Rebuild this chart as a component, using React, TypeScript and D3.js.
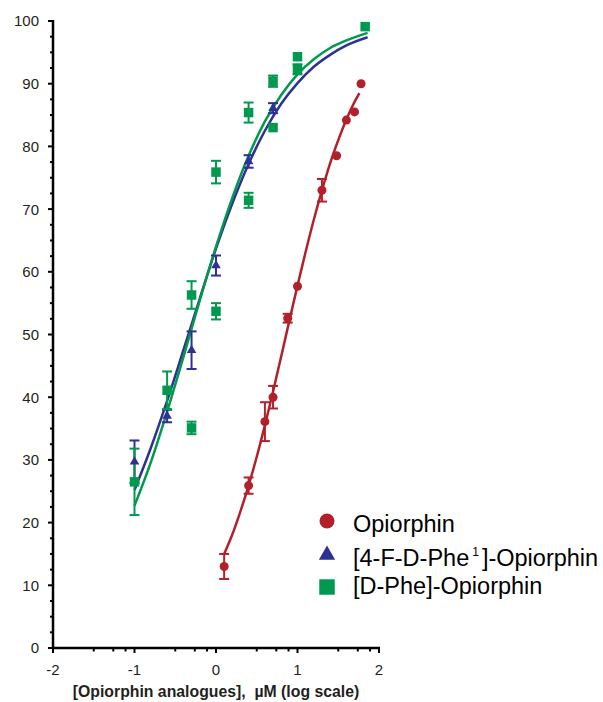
import React from "react";
import * as d3 from "d3";

// Opiorphin (log10 µM, % inhibition, sem)
const redX = [0.1, 0.4, 0.6, 0.7, 0.88, 1.0, 1.3, 1.48, 1.6, 1.7, 1.78];
const redY = [13.0, 25.9, 36.1, 40.0, 52.6, 57.7, 73.0, 78.5, 84.2, 85.5, 90.0];
const redErr = [2.0, 1.3, 3.1, 1.8, 0.7, 0, 1.8, 0, 0, 0, 0];

// [4-F-D-Phe1]-Opiorphin
const blueX = [-1, -0.6, -0.3, 0, 0.4, 0.7];
const blueY = [29.7, 37.0, 47.5, 61.0, 77.6, 86.1];
const blueErr = [3.4, 1.0, 3.0, 1.6, 1.0, 0.8];

// [D-Phe]-Opiorphin
const greenX = [-1, -0.6, -0.3, -0.3, 0, 0, 0.4, 0.4, 0.7, 0.7, 1.0, 1.0, 1.83];
const greenY = [26.5, 41.1, 56.3, 35.1, 75.9, 53.7, 85.4, 71.4, 90.4, 83.0, 94.3, 92.3, 99.1];
const greenErr = [5.3, 3.0, 2.2, 1.0, 1.8, 1.3, 1.6, 1.2, 0.9, 0, 0, 0.8, 0];

// fitted curves
const redFitX = [0.1, 0.2, 0.3, 0.4, 0.5, 0.6, 0.7, 0.8, 0.9, 1.0, 1.1, 1.2, 1.3, 1.4, 1.5, 1.6, 1.7, 1.76];
const redFitY = [15.0, 18.1, 21.8, 25.9, 30.5, 35.5, 40.9, 46.5, 52.2, 57.8, 63.2, 68.3, 73.0, 77.3, 81.0, 84.3, 87.1, 88.5];
const blueFitX = [-1, -0.8, -0.6, -0.4, -0.2, 0, 0.2, 0.4, 0.6, 0.8, 1.0, 1.2, 1.4, 1.6, 1.86];
const blueFitY = [25.2, 31.9, 39.4, 47.5, 55.7, 63.7, 70.9, 77.2, 82.5, 86.8, 90.1, 92.7, 94.6, 96.1, 97.4];
const greenFitX = [-1, -0.8, -0.6, -0.4, -0.2, 0, 0.2, 0.4, 0.6, 0.8, 1.0, 1.2, 1.4, 1.6, 1.86];
const greenFitY = [22.7, 29.6, 37.7, 46.4, 55.4, 64.0, 71.8, 78.5, 84.0, 88.2, 91.5, 93.9, 95.7, 96.9, 98.1];

const xTicks = [-2, -1, 0, 1, 2];
const xMinorOffsets = [0.5, 0.74, 0.89];
const yTicks = [0, 10, 20, 30, 40, 50, 60, 70, 80, 90, 100];

const RED = "#b2212a";
const BLUE = "#2e3192";
const GREEN = "#00994f";
const FONT = "'Liberation Sans', Arial, sans-serif";

export default function App() {
  const width = 603;
  const height = 702;
  const x = d3.scaleLinear().domain([-2, 2]).range([53, 379]);
  const y = d3.scaleLinear().domain([0, 100]).range([648, 21]);

  const line = d3
    .line<[number, number]>()
    .x(d => x(d[0]))
    .y(d => y(d[1]))
    .curve(d3.curveMonotoneX);

  const zip = (a: number[], b: number[]) => a.map((v, i) => [v, b[i]] as [number, number]);

  const yMinor = d3.range(0, 100.01, 2.5).filter(v => v % 10 !== 0);
  const xMinor = xTicks.slice(0, -1).flatMap(t => xMinorOffsets.map(o => t + o));

  const triSmall = d3.symbol(d3.symbolTriangle, 40)()!;
  const triBig = d3.symbol(d3.symbolTriangle, 115)()!;
  const sqSmall = d3.symbol(d3.symbolSquare, 90)()!;
  const sqBig = d3.symbol(d3.symbolSquare, 240)()!;

  const errBars = (xs: number[], ys: number[], es: number[], color: string, key: string) =>
    xs.map((xv, i) =>
      es[i] > 0 ? (
        <g key={key + i} stroke={color} strokeWidth={2}>
          <line x1={x(xv)} x2={x(xv)} y1={y(ys[i] - es[i])} y2={y(ys[i] + es[i])} />
          <line x1={x(xv) - 5} x2={x(xv) + 5} y1={y(ys[i] - es[i])} y2={y(ys[i] - es[i])} />
          <line x1={x(xv) - 5} x2={x(xv) + 5} y1={y(ys[i] + es[i])} y2={y(ys[i] + es[i])} />
        </g>
      ) : null
    );

  return (
    <svg
      width={width}
      height={height}
      style={{ position: "absolute", left: 0, top: 0, background: "#fff" }}
      fontFamily={FONT}
    >
      {/* axes */}
      <line x1={x(-2)} x2={x(-2)} y1={y(100) - 1} y2={y(0) + 1} stroke="#000" strokeWidth={2.5} />
      <line x1={x(-2) - 1} x2={x(2) + 1} y1={y(0)} y2={y(0)} stroke="#000" strokeWidth={2.5} />
      {yTicks.map(t => (
        <g key={"yt" + t}>
          <line x1={x(-2) - 5} x2={x(-2)} y1={y(t)} y2={y(t)} stroke="#000" strokeWidth={2} />
          <text x={39} y={y(t)} dy="0.36em" textAnchor="end" fontSize={15} fill="#231f20">
            {t}
          </text>
        </g>
      ))}
      {yMinor.map(t => (
        <line key={"ym" + t} x1={x(-2) - 3} x2={x(-2)} y1={y(t)} y2={y(t)} stroke="#000" strokeWidth={2} />
      ))}
      {xTicks.map(t => (
        <g key={"xt" + t}>
          <line x1={x(t)} x2={x(t)} y1={y(0)} y2={y(0) + 5} stroke="#000" strokeWidth={2} />
          <text x={x(t)} y={675} textAnchor="middle" fontSize={15} fill="#231f20">
            {t}
          </text>
        </g>
      ))}
      {xMinor.map(t => (
        <line key={"xm" + t} x1={x(t)} x2={x(t)} y1={y(0)} y2={y(0) + 3.5} stroke="#000" strokeWidth={2} />
      ))}
      <text
        x={x(0)}
        y={697}
        textAnchor="middle"
        fontSize={15.8}
        fontWeight="bold"
        fill="#231f20"
        style={{ whiteSpace: "pre" }}
      >
        {"[Opiorphin analogues],  \u00b5M (log scale)"}
      </text>

      {/* fitted curves */}
      <path d={line(zip(blueFitX, blueFitY))!} fill="none" stroke={BLUE} strokeWidth={2.5} />
      <path d={line(zip(greenFitX, greenFitY))!} fill="none" stroke={GREEN} strokeWidth={2.5} />
      <path d={line(zip(redFitX, redFitY))!} fill="none" stroke={RED} strokeWidth={2.5} />

      {/* error bars */}
      {errBars(blueX, blueY, blueErr, BLUE, "be")}
      {errBars(greenX, greenY, greenErr, GREEN, "ge")}
      {errBars(redX, redY, redErr, RED, "re")}

      {/* markers */}
      {blueX.map((xv, i) => (
        <path key={"b" + i} d={triSmall} transform={`translate(${x(xv)},${y(blueY[i])})`} fill={BLUE} />
      ))}
      {greenX.map((xv, i) => (
        <path key={"g" + i} d={sqSmall} transform={`translate(${x(xv)},${y(greenY[i])})`} fill={GREEN} />
      ))}
      {redX.map((xv, i) => (
        <circle key={"r" + i} cx={x(xv)} cy={y(redY[i])} r={4.5} fill={RED} />
      ))}

      {/* legend */}
      <g fontSize={23.5} fill="#000">
        <circle cx={327} cy={521} r={7.5} fill={RED} />
        <text x={353} y={532}>Opiorphin</text>
        <path d={triBig} transform="translate(327,555)" fill={BLUE} />
        <text x={353} y={566}>
          [4-F-D-Phe
          <tspan fontSize={12} dx={3} dy={-10}>1</tspan>
          <tspan dx={3} dy={10}>]-Opiorphin</tspan>
        </text>
        <path d={sqBig} transform="translate(327,587)" fill={GREEN} />
        <text x={353} y={594}>[D-Phe]-Opiorphin</text>
      </g>
    </svg>
  );
}
